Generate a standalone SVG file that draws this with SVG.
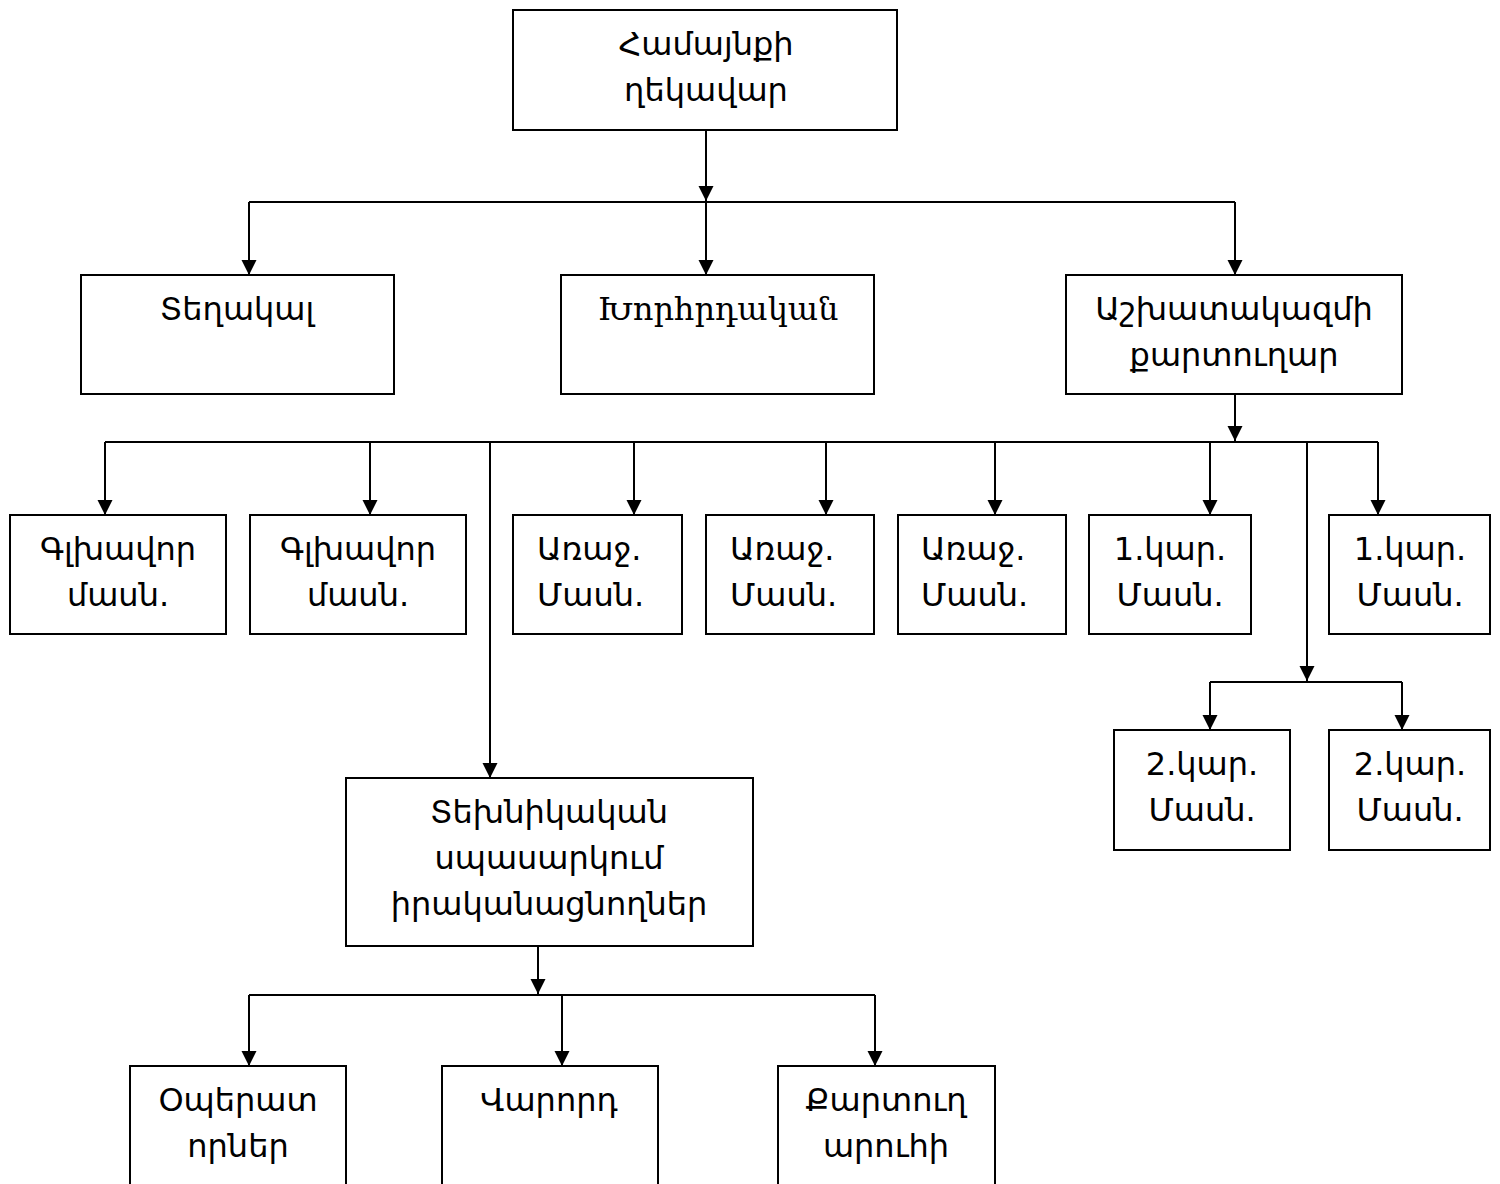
<svg xmlns="http://www.w3.org/2000/svg" width="1500" height="1184" viewBox="0 0 1500 1184">
<style>
.box{fill:#fff;stroke:#000;stroke-width:2}
.t{font-family:"DejaVu Sans","Noto Sans",sans-serif;font-size:32px;fill:#000;text-anchor:middle}
.s{font-family:"DejaVu Serif","Liberation Serif",serif;font-size:32px;fill:#000;text-anchor:middle}
.l{text-anchor:start}
.c{fill:none;stroke:#000;stroke-width:2}
.a{marker-end:url(#arr)}
</style>
<defs>
<marker id="arr" markerUnits="userSpaceOnUse" markerWidth="16" markerHeight="16" refX="15" refY="7.5" orient="auto">
<path d="M0,0 L15,7.5 L0,15 z" fill="#000"/>
</marker>
</defs>
<rect width="1500" height="1184" fill="#fff"/>
<g id="connectors">
<path class="c a" d="M706,130 V201"/>
<path class="c" d="M249,202 H1235"/>
<path class="c a" d="M249,202 V275"/>
<path class="c a" d="M706,202 V275"/>
<path class="c a" d="M1235,202 V275"/>
<path class="c a" d="M1235,394 V441"/>
<path class="c" d="M105,442 H1378"/>
<path class="c a" d="M105,442 V515"/>
<path class="c a" d="M370,442 V515"/>
<path class="c a" d="M490,442 V778"/>
<path class="c a" d="M634,442 V515"/>
<path class="c a" d="M826,442 V515"/>
<path class="c a" d="M995,442 V515"/>
<path class="c a" d="M1210,442 V515"/>
<path class="c a" d="M1307,442 V681"/>
<path class="c a" d="M1378,442 V515"/>
<path class="c" d="M1210,682 H1402"/>
<path class="c a" d="M1210,682 V730"/>
<path class="c a" d="M1402,682 V730"/>
<path class="c a" d="M538,947 V994"/>
<path class="c" d="M249,995 H875"/>
<path class="c a" d="M249,995 V1066"/>
<path class="c a" d="M562,995 V1066"/>
<path class="c a" d="M875,995 V1066"/>
</g>
<g id="n-head"><rect class="box" x="513" y="10" width="384" height="120"/><text class="t" x="706" y="55">Համայնքի</text><text class="t" x="706" y="101">ղեկավար</text></g>
<g id="n-deputy"><rect class="box" x="81" y="275" width="313" height="119"/><text class="t" x="237" y="320">Տեղակալ</text></g>
<g id="n-advisor"><rect class="box" x="561" y="275" width="313" height="119"/><text class="s" x="718" y="320">Խորհրդական</text></g>
<g id="n-secretary"><rect class="box" x="1066" y="275" width="336" height="119"/><text class="t" x="1234" y="320">Աշխատակազմի</text><text class="t" x="1234" y="366">քարտուղար</text></g>
<g id="n-main1"><rect class="box" x="10" y="515" width="216" height="119"/><text class="t" x="118" y="560">Գլխավոր</text><text class="t" x="118" y="606">մասն.</text></g>
<g id="n-main2"><rect class="box" x="250" y="515" width="216" height="119"/><text class="t" x="358" y="560">Գլխավոր</text><text class="t" x="358" y="606">մասն.</text></g>
<g id="n-lead1"><rect class="box" x="513" y="515" width="169" height="119"/><text class="t l" x="537" y="560">Առաջ.</text><text class="t l" x="537" y="606">Մասն.</text></g>
<g id="n-lead2"><rect class="box" x="706" y="515" width="168" height="119"/><text class="t l" x="730" y="560">Առաջ.</text><text class="t l" x="730" y="606">Մասն.</text></g>
<g id="n-lead3"><rect class="box" x="898" y="515" width="168" height="119"/><text class="t l" x="921" y="560">Առաջ.</text><text class="t l" x="921" y="606">Մասն.</text></g>
<g id="n-cat1a"><rect class="box" x="1089" y="515" width="162" height="119"/><text class="t" x="1170" y="560">1.կար.</text><text class="t" x="1170" y="606">Մասն.</text></g>
<g id="n-cat1b"><rect class="box" x="1329" y="515" width="161" height="119"/><text class="t" x="1410" y="560">1.կար.</text><text class="t" x="1410" y="606">Մասն.</text></g>
<g id="n-cat2a"><rect class="box" x="1114" y="730" width="176" height="120"/><text class="t" x="1202" y="775">2.կար.</text><text class="t" x="1202" y="821">Մասն.</text></g>
<g id="n-cat2b"><rect class="box" x="1329" y="730" width="161" height="120"/><text class="t" x="1410" y="775">2.կար.</text><text class="t" x="1410" y="821">Մասն.</text></g>
<g id="n-tech"><rect class="box" x="346" y="778" width="407" height="168"/><text class="t" x="549" y="823">Տեխնիկական</text><text class="t" x="549" y="869">սպասարկում</text><text class="t" x="549" y="915">իրականացնողներ</text></g>
<g id="n-operators"><rect class="box" x="130" y="1066" width="216" height="130"/><text class="t" x="238" y="1111">Օպերատ</text><text class="t" x="238" y="1157">որներ</text></g>
<g id="n-driver"><rect class="box" x="442" y="1066" width="216" height="130"/><text class="t" x="549" y="1111">Վարորդ</text></g>
<g id="n-clerk"><rect class="box" x="778" y="1066" width="217" height="130"/><text class="t" x="886" y="1111">Քարտուղ</text><text class="t" x="886" y="1157">արուհի</text></g>
</svg>
